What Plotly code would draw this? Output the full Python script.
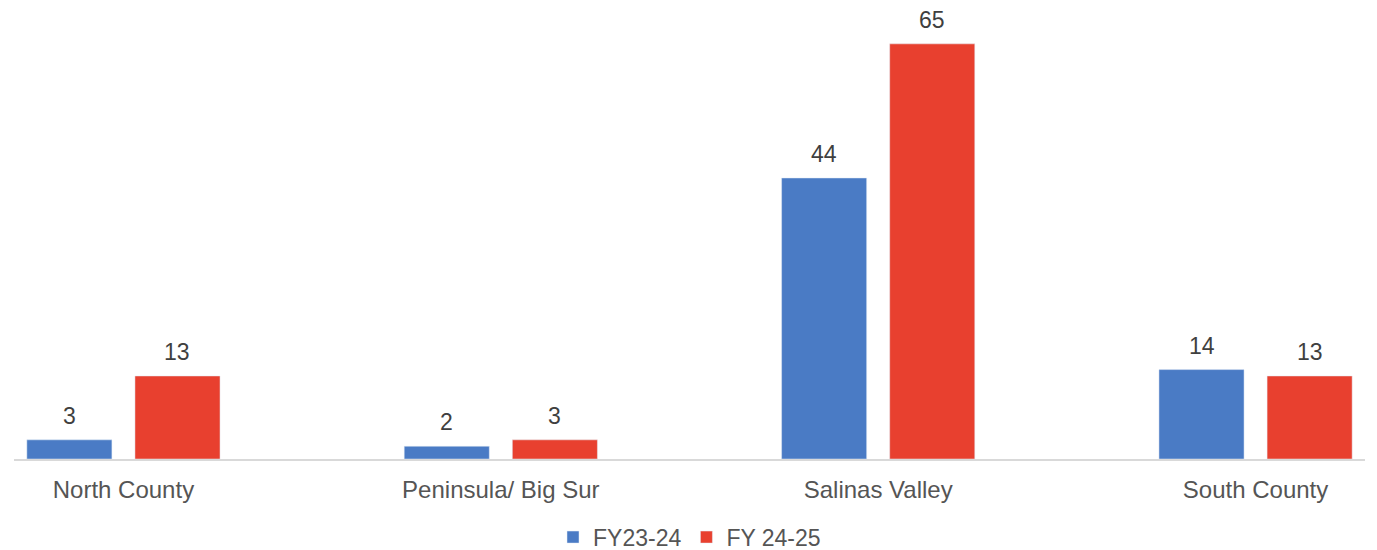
import plotly.graph_objects as go

categories = ["North County", "Peninsula/ Big Sur", "Salinas Valley", "South County"]
fy2324 = [3, 2, 44, 14]
fy2425 = [13, 3, 65, 13]
series_names = ["FY23-24", "FY 24-25"]

blue = "#4A7BC5"
red = "#E8402F"
label_color = "#3F3F3F"
tick_color = "#555555"
font_family = "Liberation Sans, Arial, sans-serif"

fig = go.Figure()
fig.add_trace(go.Bar(x=categories, y=fy2324, name=series_names[0], marker_color=blue))
fig.add_trace(go.Bar(x=categories, y=fy2425, name=series_names[1], marker_color=red))

# value labels placed above each bar via the axes
offset_px = 54
for vals, sign in ((fy2324, -1), (fy2425, 1)):
    for c, v in zip(categories, vals):
        fig.add_annotation(x=c, y=v, text=str(v), showarrow=False, xref="x", yref="y",
                           xshift=sign * offset_px, yanchor="bottom", yshift=9,
                           font=dict(size=23, color=label_color, family=font_family))

fig.update_layout(
    width=1369, height=542,
    margin=dict(l=6, r=12, t=2, b=91, autoexpand=False),
    paper_bgcolor="white", plot_bgcolor="white",
    barmode="group", bargap=0.427, bargroupgap=0.213,
    font=dict(family=font_family, color=tick_color, size=23),
    showlegend=True,
    legend=dict(orientation="h", x=0.5, xanchor="center", y=-0.174, yanchor="middle",
                font=dict(size=23, color=tick_color), traceorder="normal"),
    xaxis=dict(range=[-0.29, 3.29], showline=True, linecolor="#D9D9D9", linewidth=2,
               showgrid=False, ticks="", tickfont=dict(size=24, color=tick_color),
               ticklabelstandoff=8),
    yaxis=dict(range=[0, 70.3], visible=False, showgrid=False, zeroline=False),
)

fig.write_html("out.html")
